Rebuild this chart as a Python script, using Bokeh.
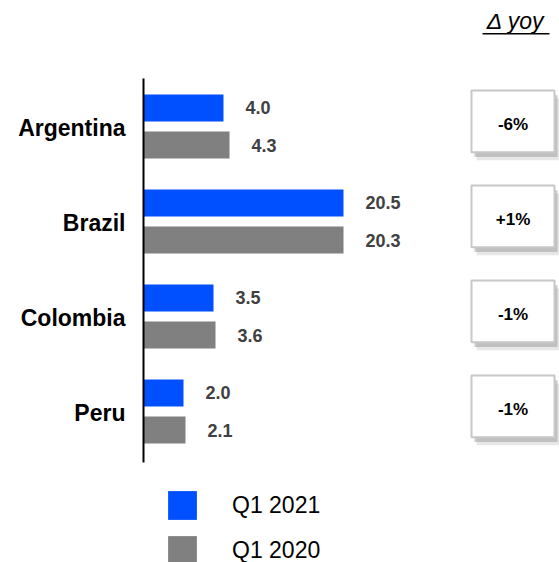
from bokeh.plotting import figure
from bokeh.models import Range1d, ColumnDataSource, Legend, LegendItem
from bokeh.core.properties import value
from bokeh.embed import file_html
from bokeh.resources import INLINE

countries = ["Argentina", "Brazil", "Colombia", "Peru"]
q1_2021 = [4.0, 20.5, 3.5, 2.0]
q1_2020 = [4.3, 20.3, 3.6, 2.1]
yoy = ["-6%", "+1%", "-1%", "-1%"]
series_labels = ["Q1 2021", "Q1 2020"]
header = "\u0394 yoy"
BAR_CAP = 10.0  # bars longer than this are drawn truncated (broken axis)

BLUE = "#0050FF"
GRAY = "#808080"
FONT = "Liberation Sans"

idx = list(range(len(countries)))
OFF = 0.195
BAR_H = 0.284

p = figure(width=559, height=562, x_range=Range1d(-7.15, 20.8), y_range=Range1d(4.589, -1.326),
           output_backend="svg", toolbar_location=None, min_border=0,
           x_axis_type=None, y_axis_type=None)
p.grid.visible = False
p.outline_line_color = None

src21 = ColumnDataSource(dict(y=[i - OFF for i in idx], v=q1_2021,
                              x=[min(v, BAR_CAP) for v in q1_2021],
                              t=[f"{v:.1f}" for v in q1_2021]))
src20 = ColumnDataSource(dict(y=[i + OFF for i in idx], v=q1_2020,
                              x=[min(v, BAR_CAP) for v in q1_2020],
                              t=[f"{v:.1f}" for v in q1_2020]))

r21 = p.hbar(y="y", left=0, right="x", height=BAR_H, source=src21, fill_color=BLUE, line_color=None)
r20 = p.hbar(y="y", left=0, right="x", height=BAR_H, source=src20, fill_color=GRAY, line_color=None)

for s in (src21, src20):
    p.text(x="x", y="y", text="t", source=s, x_offset=22, text_align="left", text_baseline="middle",
           text_font=value(FONT), text_font_style="bold", text_font_size="18px", text_color="#404040")

# vertical axis line
p.segment(x0=[0], y0=[-0.505], x1=[0], y1=[3.537], line_color="black", line_width=2)

# category labels
p.text(x=[-0.9] * len(idx), y=[i + 0.02 for i in idx], text=countries, text_align="right",
       text_baseline="middle", text_font=value(FONT), text_font_style="bold",
       text_font_size="23px", text_color="black")

# yoy boxes
BX, BW, BH = 18.475, 4.15, 0.65
by = [i - 0.055 for i in idx]
p.rect(x=[BX + 0.25] * len(idx), y=[b + 0.085 for b in by], width=BW, height=BH,
       fill_color="#b0b0b0", fill_alpha=0.3, line_color=None)
p.rect(x=[BX + 0.15] * len(idx), y=[b + 0.05 for b in by], width=BW, height=BH,
       fill_color="#909090", fill_alpha=0.45, line_color=None)
p.rect(x=[BX] * len(idx), y=by, width=BW, height=BH, fill_color="white",
       line_color="#c8c8c8", line_width=2)
p.text(x=[BX] * len(idx), y=[b + 0.03 for b in by], text=yoy, text_align="center",
       text_baseline="middle", text_font=value(FONT), text_font_style="bold",
       text_font_size="17px", text_color="black")

# header
p.text(x=[18.6], y=[-1.105], text=[header], text_align="center", text_baseline="middle",
       text_font=value(FONT), text_font_style="italic", text_font_size="23px", text_color="black")
p.segment(x0=[16.95], y0=[-0.975], x1=[20.3], y1=[-0.975], line_color="black", line_width=1.5)

legend = Legend(items=[LegendItem(label=series_labels[0], renderers=[r21]),
                       LegendItem(label=series_labels[1], renderers=[r20])],
                location=(164, -6), orientation="vertical",
                glyph_width=36, glyph_height=36, label_standoff=32, spacing=9,
                padding=0, margin=0, border_line_alpha=0, background_fill_alpha=0,
                label_text_font=FONT, label_text_font_size="23px", label_text_color="black",
                label_height=36)
p.add_layout(legend, "center")

open("out.html", "w").write(file_html(p, INLINE))
